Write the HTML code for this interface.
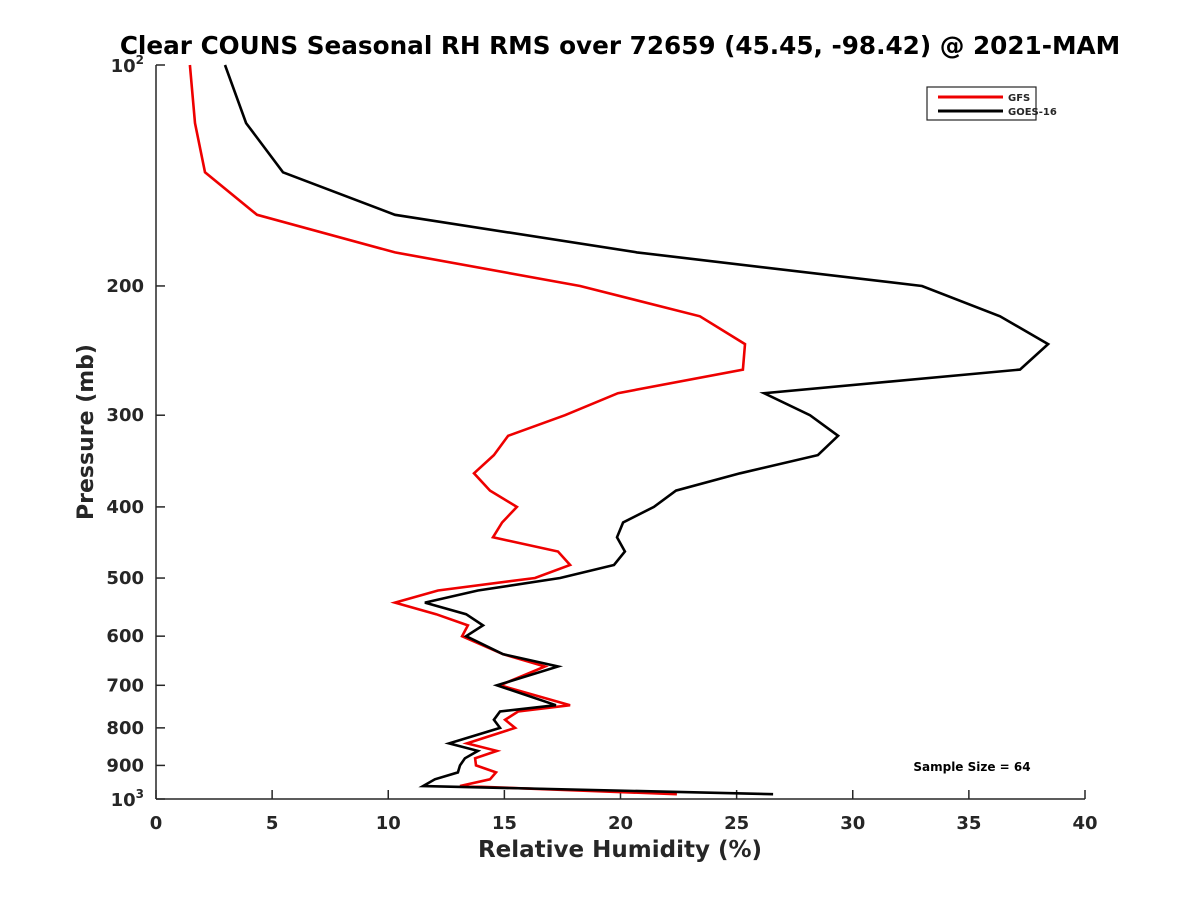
<!DOCTYPE html>
<html><head><meta charset="utf-8"><style>
body{margin:0;background:#fff}
svg text{font-family:"DejaVu Sans","Liberation Sans",sans-serif;font-weight:bold;fill:#262626}
</style></head><body>
<svg id="chart" width="1200" height="900" viewBox="0 0 1200 900">
<rect width="1200" height="900" fill="#fff"/>
<text x="620" y="54" text-anchor="middle" font-size="24.7" style="fill:#000">Clear COUNS Seasonal RH RMS over 72659 (45.45, -98.42) @ 2021-MAM</text>
<g id="axes"></g>
<g id="series"></g>
<g>
<rect x="927" y="87" width="109" height="33" fill="#fff" stroke="#262626" stroke-width="1.2"/>
<line x1="938" y1="97" x2="1003" y2="97" stroke="#e00" stroke-width="3"/>
<text x="1008" y="101" font-size="10">GFS</text>
<line x1="938" y1="111" x2="1003" y2="111" stroke="#000" stroke-width="3"/>
<text x="1008" y="115" font-size="10">GOES-16</text>
</g>
<text x="972" y="771" text-anchor="middle" font-size="12" style="fill:#000">Sample Size = 64</text>
</svg>
<script>
const pressure=[100,120,140,160,180,200,220,240,260,280,300,320,340,360,380,400,420,440,460,480,500,520,540,560,580,600,635,660,700,745,760,780,800,840,860,880,900,920,940,960,985];
const goesRH=[2.97,3.88,5.47,10.29,20.71,32.98,36.34,38.41,37.20,26.18,28.16,29.37,28.50,25.15,22.39,21.44,20.11,19.85,20.19,19.72,17.40,13.86,11.58,13.35,14.08,13.35,14.94,17.31,14.68,17.22,14.81,14.55,14.81,12.62,13.86,13.30,13.09,13.00,12.01,11.50,26.57];
const gfsRH=[1.46,1.68,2.11,4.35,10.29,18.26,23.42,25.36,25.27,19.89,17.61,15.16,14.55,13.69,14.38,15.54,14.90,14.51,17.31,17.83,16.32,12.14,10.29,12.06,13.43,13.18,14.94,16.75,14.81,17.83,15.59,15.03,15.46,13.39,14.68,13.74,13.78,14.64,14.38,13.09,22.43];
const xTicks=[0,5,10,15,20,25,30,35,40];
const yTicks=[200,300,400,500,600,700,800,900];
const NS='http://www.w3.org/2000/svg';
const X0=156,X1=1085,Y0=65,Y1=799;
const xs=v=>X0+(v-0)/40*(X1-X0);
const ys=p=>Y0+Math.log10(p/100)*(Y1-Y0);
const axes=document.getElementById('axes'),ser=document.getElementById('series');
function mk(t,a,parent){const e=document.createElementNS(NS,t);for(const k in a)e.setAttribute(k,a[k]);parent.appendChild(e);return e;}
const xa=mk('line',{x1:X0,y1:Y1,x2:X1,y2:Y1,stroke:'#262626','stroke-width':1.5},axes);


const ya=mk('line',{x1:X0,y1:Y0,x2:X0,y2:Y1,stroke:'#262626','stroke-width':1.5},axes);


xTicks.forEach(v=>{
  const x=xs(v);
  const t=mk('line',{x1:x,y1:Y1,x2:x,y2:Y1-9,stroke:'#262626','stroke-width':1.5},axes);
  
  
  const l=mk('text',{x:x,y:Y1+30,'text-anchor':'middle','font-size':18},axes);
  l.textContent=v;
  
  
});
yTicks.concat([100,1000]).forEach(p=>{
  const y=ys(p);
  const t=mk('line',{x1:X0,y1:y,x2:X0+9,y2:y,stroke:'#262626','stroke-width':1.5},axes);
  
  
});
yTicks.forEach(p=>{
  const l=mk('text',{x:X0-12,y:ys(p)+6,'text-anchor':'end','font-size':18},axes);
  l.textContent=p;
  
  
});
[[100,'2'],[1000,'3']].forEach(([p,e])=>{
  const l=mk('text',{x:X0-12,y:ys(p)+7,'text-anchor':'end','font-size':18},axes);
  l.innerHTML='10<tspan dy="-8" font-size="12">'+e+'</tspan>';
  
  
});
const xt=mk('text',{x:620,y:857,'text-anchor':'middle','font-size':23},axes);
xt.textContent='Relative Humidity (%)';


const yt=mk('text',{x:93,y:432,'text-anchor':'middle','font-size':22,transform:'rotate(-90 93 432)'},axes);
yt.textContent='Pressure (mb)';


function line(vals,color,name){
  const pts=vals.map((v,i)=>xs(v).toFixed(1)+','+ys(pressure[i]).toFixed(1)).join(' ');
  const pl=mk('polyline',{points:pts,fill:'none',stroke:color,'stroke-width':2.6,'stroke-linejoin':'miter'},ser);
  
  
}
line(gfsRH,'#e00','gfs-line');
line(goesRH,'#000','goes16-line');
</script>
</body></html>
